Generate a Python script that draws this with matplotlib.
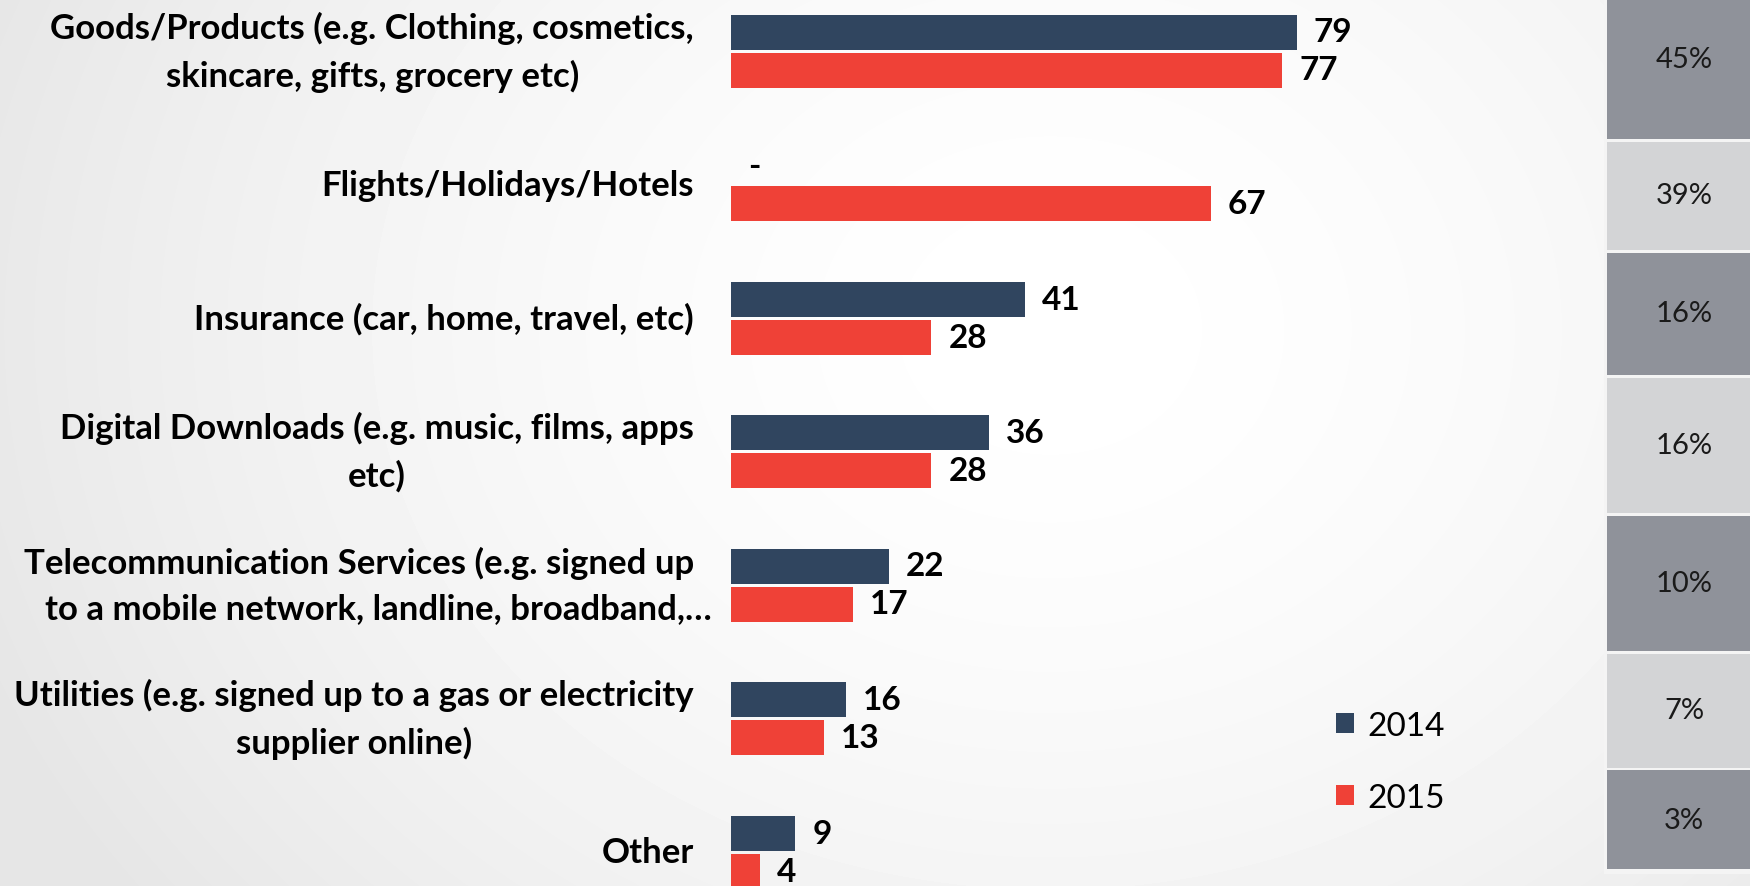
import numpy as np
import matplotlib
matplotlib.use("Agg")
import matplotlib.pyplot as plt
from matplotlib.patches import Rectangle
from matplotlib.transforms import blended_transform_factory

plt.rcParams['font.family'] = ['Lato', 'DejaVu Sans']

# ---- data ----
categories = [
    "Goods/Products (e.g. Clothing, cosmetics,\nskincare, gifts, grocery etc)",
    "Flights/Holidays/Hotels",
    "Insurance (car, home, travel, etc)",
    "Digital Downloads (e.g. music, films, apps\netc)",
    "Telecommunication Services (e.g. signed up\nto a mobile network, landline, broadband,\u2026",
    "Utilities (e.g. signed up to a gas or electricity\nsupplier online)",
    "Other",
]
values_2014 = [79, None, 41, 36, 22, 16, 9]
values_2015 = [77, 67, 28, 28, 17, 13, 4]
share_labels = ["45%", "39%", "16%", "16%", "10%", "7%", "3%"]
series_names = ["2014", "2015"]

# ---- styling ----
W, H = 1750, 887
BLUE = "#30455F"
RED = "#EF4137"
CELL_DARK = "#8F929A"
CELL_LIGHT = "#D3D4D6"

fig = plt.figure(figsize=(W / 100, H / 100), dpi=100)

# soft radial background
bg = fig.add_axes([0, 0, 1, 1], zorder=0)
yy, xx = np.mgrid[0:H, 0:W]
r = np.sqrt(((xx - 1050) / 1150.0) ** 2 + ((yy - 330) / 950.0) ** 2)
shade = 1.0 - 0.10 * np.clip(r, 0, 1) ** 1.6
bg.imshow(shade, cmap="gray", vmin=0, vmax=1, extent=[0, W, H, 0], aspect="auto")
bg.set_xlim(0, W)
bg.set_ylim(H, 0)
bg.axis("off")

# main bar axes: value 0 sits at x=731 px, 7.16 px per unit
x0_px, px_per_unit = 731, 7.16
xmax = 100
ax = fig.add_axes([x0_px / W, 0, xmax * px_per_unit / W, 1], zorder=1)
ax.patch.set_alpha(0)

pitch_px, first_px = 133.5, 52
ax.set_ylim((H - first_px) / pitch_px, -first_px / pitch_px)
ax.set_xlim(0, xmax)

n = len(categories)
ypos = np.arange(n)
off = 19 / pitch_px
bh = 35 / pitch_px

v14 = np.array([v if v is not None else 0 for v in values_2014], dtype=float)
v15 = np.array(values_2015, dtype=float)
ax.barh(ypos - off, v14, height=bh, color=BLUE, label=series_names[0])
ax.barh(ypos + off, v15, height=bh, color=RED, label=series_names[1])

gap = 17 / px_per_unit
for i in range(n):
    t14 = "-" if values_2014[i] is None else str(values_2014[i])
    ax.text(v14[i] + gap, ypos[i] - off, t14, ha="left", va="center",
            fontsize=24, fontweight="bold", color="black")
    ax.text(v15[i] + gap, ypos[i] + off, str(values_2015[i]), ha="left",
            va="center", fontsize=24, fontweight="bold", color="black")

# category labels, right-aligned left of the bars, lines centred on each other
lab_tr = blended_transform_factory(fig.transFigure, ax.transData)
lab_kw = dict(transform=lab_tr, va="center", fontsize=25, fontweight="bold", color="black")
for i, cat in enumerate(categories):
    if cat.startswith("Telecommunication"):
        # the truncated second line runs past the common right edge
        first, second = cat.split("\n")
        half = 22.8 / pitch_px
        ax.text(694 / W, ypos[i] - half, first, ha="right", **lab_kw)
        ax.text(712 / W, ypos[i] + half, second, ha="right", **lab_kw)
    else:
        ax.text(694 / W, ypos[i], cat, ha="right", multialignment="center",
                linespacing=1.55, **lab_kw)

ax.set_yticks([])
ax.set_xticks([])
for s in ax.spines.values():
    s.set_visible(False)

# legend
leg = ax.legend(loc="upper left",
                bbox_to_anchor=((1306 - x0_px) / (xmax * px_per_unit), 1 - 682 / H),
                frameon=False, fontsize=24, handlelength=0.55, handleheight=0.55,
                handletextpad=0.4, labelspacing=1.26)

# right-hand share panel
pan = fig.add_axes([0, 0, 1, 1], zorder=2)
pan.set_xlim(0, W)
pan.set_ylim(H, 0)
pan.axis("off")
pan.patch.set_alpha(0)
cell_edges = [-22, 141, 252, 377, 515, 653, 770, 872]
px_left = 1607
pan.add_patch(Rectangle((px_left - 3, -5), W - px_left + 10, 880, color="#F4F4F4", lw=0))
for i, lab in enumerate(share_labels):
    top, bot = cell_edges[i], cell_edges[i + 1]
    col = CELL_DARK if i % 2 == 0 else CELL_LIGHT
    pan.add_patch(Rectangle((px_left, top + 1.5), W - px_left + 5, bot - top - 3, color=col, lw=0))
    pan.text(1684, (top + bot) / 2, lab, ha="center", va="center", fontsize=21, color="#1A1A1A")

fig.savefig("out.png", dpi=100)
